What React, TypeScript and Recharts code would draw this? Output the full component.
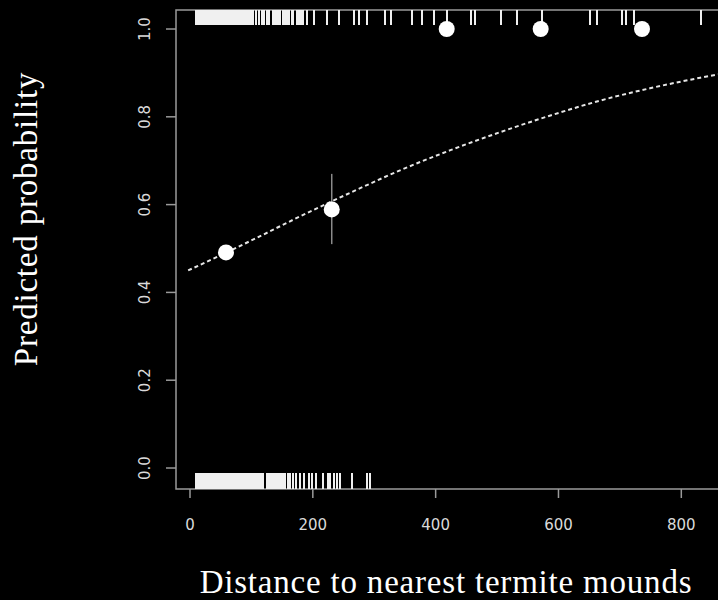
import React from "react";
import {
  ComposedChart,
  Line,
  Scatter,
  ErrorBar,
  XAxis,
  YAxis,
  ReferenceArea,
  Label,
} from "recharts";

// fitted curve (distance, predicted probability)
const curveDistance = [-3, 98, 179, 261, 342, 424, 505, 587, 668, 749, 831, 862];
const curveProb = [0.45, 0.517, 0.573, 0.627, 0.678, 0.724, 0.765, 0.803, 0.837, 0.865, 0.889, 0.897];

// binned observed means with error
const binDistance = [58.6, 230.8, 418, 571, 736];
const binProb = [0.491, 0.589, 1.0, 1.0, 1.0];
const binErr = [
  [0, 0],
  [0.079, 0.081],
  [0, 0],
  [0, 0],
  [0, 0],
];

// rug: distances of presence (top) and absence (bottom) sites
const presenceDistances = [
  10, 11, 13, 15, 16, 18, 20, 21, 23, 25, 27, 28, 30, 32, 33, 35, 37, 39, 40, 42,
  44, 45, 47, 49, 51, 52, 54, 56, 57, 59, 61, 63, 64, 66, 68, 69, 71, 73, 75, 76,
  78, 80, 81, 83, 85, 87, 88, 90, 92, 93, 95, 97, 99,
  103, 108, 112, 117, 121, 126, 129,
  135, 137, 139, 141, 143, 145, 147,
  151, 153, 156, 159, 161, 166, 168,
  174, 176, 179, 182, 184,
  190, 202, 223, 243, 267, 275, 288, 318, 328, 361, 377, 397, 418, 457, 464,
  506, 532, 573, 652, 663, 703, 710, 723, 832,
];
const absenceDistances = [
  10, 12, 13, 15, 17, 18, 20, 22, 23, 25, 27, 29, 30, 32, 34, 35, 37, 39, 40, 42,
  44, 46, 47, 49, 51, 52, 54, 56, 58, 59, 61, 63, 64, 66, 68, 70, 71, 73, 75, 76,
  78, 80, 82, 83, 85, 87, 88, 90, 92, 94, 95, 97, 99, 100, 102, 104, 106, 107, 109,
  111, 112, 114, 116, 118, 119,
  125, 127, 128, 130, 132, 134, 135, 137, 139, 140, 142, 144, 146, 147, 149,
  152, 155, 159, 163, 167,
  172, 179, 185, 193, 198, 205, 217, 224, 228, 235, 240, 244, 263, 288, 293,
];

const xTicks = [0, 200, 400, 600, 800];
const yTicks = [0, 0.2, 0.4, 0.6, 0.8, 1.0];

const X_MIN = -22.8;
const X_MAX = 920;
const Y_MIN = -0.0478;
const Y_MAX = 1.0433;

const AXIS = "#9a9a9a";
const TICK_TEXT = "#dadada";

const curveData = curveDistance.map((x, i) => ({ x, y: curveProb[i] }));
const binData = binDistance.map((x, i) => ({ x, y: binProb[i], err: binErr[i] }));
const rugTop = presenceDistances.map((x) => ({ x, y: Y_MAX }));
const rugBottom = absenceDistances.map((x) => ({ x, y: Y_MIN }));

const YTick = (props: any) => {
  const { y, payload } = props;
  return (
    <text
      x={145}
      y={y}
      transform={`rotate(-90 145 ${y})`}
      textAnchor="middle"
      dominantBaseline="central"
      fontFamily="DejaVu Sans"
      fontSize={15}
      fill={TICK_TEXT}
    >
      {payload.value.toFixed(1)}
    </text>
  );
};

const XTick = (props: any) => {
  const { x, payload } = props;
  return (
    <text
      x={x}
      y={525}
      textAnchor="middle"
      dominantBaseline="central"
      fontFamily="DejaVu Sans"
      fontSize={15}
      fill={TICK_TEXT}
    >
      {payload.value}
    </text>
  );
};

const TopRug = (props: any) => (
  <line
    x1={props.cx}
    x2={props.cx}
    y1={props.cy}
    y2={props.cy + 15}
    stroke="#f0f0f0"
    strokeWidth={2}
    shapeRendering="crispEdges"
  />
);

const BottomRug = (props: any) => (
  <line
    x1={props.cx}
    x2={props.cx}
    y1={props.cy - 16}
    y2={props.cy}
    stroke="#f0f0f0"
    strokeWidth={2}
    shapeRendering="crispEdges"
  />
);

const Dot = (props: any) => <circle cx={props.cx} cy={props.cy} r={8} fill="#ffffff" />;

const App = () => {
  return (
    <div
      style={{
        position: "fixed",
        left: 0,
        top: 0,
        width: 718,
        height: 600,
        overflow: "hidden",
        background: "#000",
      }}
    >
      <ComposedChart width={755} height={600} margin={{ top: 10, right: 0, bottom: 0, left: 0 }}>
        <XAxis
          type="number"
          dataKey="x"
          domain={[X_MIN, X_MAX]}
          ticks={xTicks}
          allowDataOverflow
          height={111}
          axisLine={false}
          tickLine={{ stroke: AXIS, strokeWidth: 1.5 }}
          tickSize={9}
          tick={<XTick />}
        >
          <Label
            content={() => (
              <text
                x={446}
                y={593}
                textAnchor="middle"
                fontFamily="Liberation Serif"
                fontSize={33}
                letterSpacing={0.8}
                fill="#ffffff"
              >
                Distance to nearest termite mounds
              </text>
            )}
          />
        </XAxis>
        <YAxis
          type="number"
          dataKey="y"
          domain={[Y_MIN, Y_MAX]}
          ticks={yTicks}
          allowDataOverflow
          width={176}
          axisLine={false}
          tickLine={{ stroke: AXIS, strokeWidth: 1.5 }}
          tickSize={10}
          tick={<YTick />}
        >
          <Label
            content={() => (
              <text
                x={37}
                y={219}
                transform="rotate(-90 37 219)"
                textAnchor="middle"
                fontFamily="Liberation Serif"
                fontSize={33}
                letterSpacing={0.8}
                fill="#ffffff"
              >
                Predicted probability
              </text>
            )}
          />
        </YAxis>
        <ReferenceArea
          x1={X_MIN}
          x2={X_MAX}
          y1={Y_MIN}
          y2={Y_MAX}
          fill="none"
          stroke={AXIS}
          strokeWidth={1.5}
          ifOverflow="visible"
        />
        <Scatter data={rugTop} shape={<TopRug />} isAnimationActive={false} />
        <Scatter data={rugBottom} shape={<BottomRug />} isAnimationActive={false} />
        <Line
          data={curveData}
          dataKey="y"
          type="monotone"
          stroke="#e6e6e6"
          strokeWidth={2}
          strokeDasharray="4 3"
          dot={false}
          activeDot={false}
          isAnimationActive={false}
        />
        <Scatter data={binData} shape={<Dot />} isAnimationActive={false}>
          <ErrorBar dataKey="err" direction="y" width={0} stroke="#8a8a8a" strokeWidth={1.5} />
        </Scatter>
      </ComposedChart>
    </div>
  );
};

export default App;
